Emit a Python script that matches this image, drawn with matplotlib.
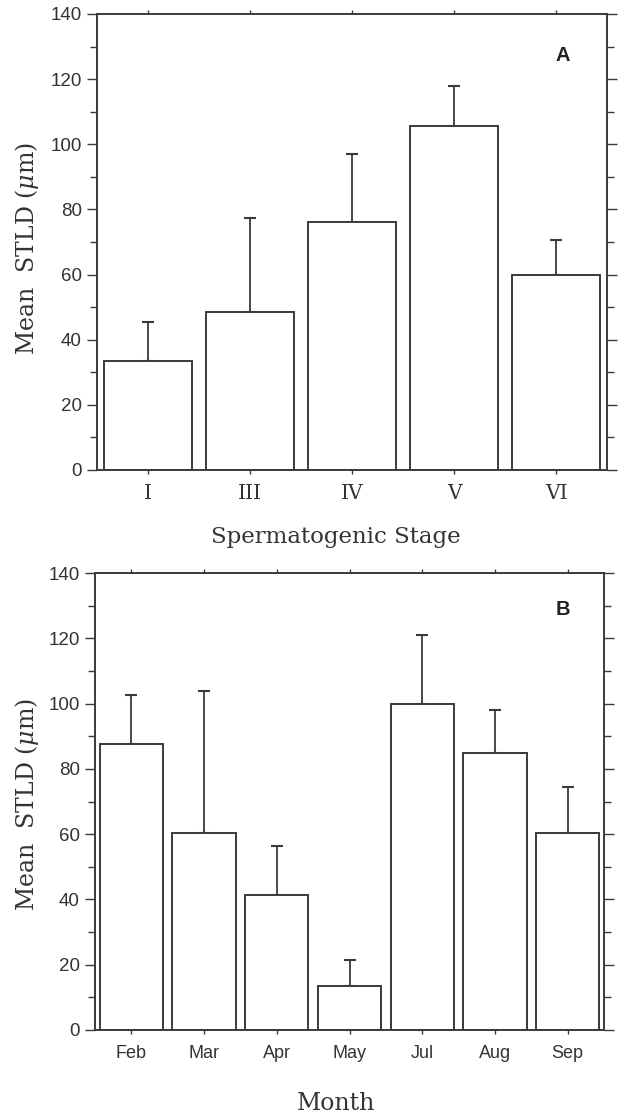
import matplotlib
matplotlib.use("Agg")
import matplotlib.pyplot as plt
from matplotlib.ticker import MultipleLocator
import numpy as np

# Panel A: seminiferous tubule lumen diameter by spermatogenic stage
stages = ["I", "III", "IV", "V", "VI"]
stage_mean = [33.5, 48.5, 76.0, 105.5, 60.0]
stage_sd = [12.0, 29.0, 21.0, 12.5, 10.5]

# Panel B: same measure by sampling month
months = ["Feb", "Mar", "Apr", "May", "Jul", "Aug", "Sep"]
month_mean = [87.5, 60.5, 41.5, 13.5, 100.0, 85.0, 60.5]
month_sd = [15.0, 43.5, 15.0, 8.0, 21.0, 13.0, 14.0]

plt.rcParams["mathtext.fontset"] = "dejavuserif"
SERIF = ["DejaVu Serif"]
SANS = ["Liberation Sans", "DejaVu Sans"]
EDGE = "#3a3a3a"
TXT = "#333333"

fig = plt.figure(figsize=(6.18, 11.17), dpi=100)
axA = fig.add_axes([97 / 618, 1 - 470 / 1117, 510 / 618, 456 / 1117])
axB = fig.add_axes([95 / 618, 1 - 1030 / 1117, 509 / 618, 457 / 1117])


def draw_panel(ax, cats, mean, sd, letter, tick_font, tick_size, tick_pad, letter_xy):
    x = np.arange(len(cats))
    ax.bar(x, mean, width=0.87, color="white", edgecolor=EDGE, linewidth=1.4, zorder=2)
    ax.errorbar(x, mean, yerr=[np.zeros(len(sd)), sd], fmt="none", ecolor=EDGE,
                elinewidth=1.3, capsize=4, capthick=1.5, zorder=1)
    ax.set_xlim(-0.5, len(cats) - 0.5)
    ax.set_ylim(0, 140)
    for s in ax.spines.values():
        s.set_color(EDGE)
        s.set_linewidth(1.4)
    ax.yaxis.set_major_locator(MultipleLocator(20))
    ax.yaxis.set_minor_locator(MultipleLocator(10))
    ax.set_xticks(x)
    ax.set_xticklabels(cats, family=tick_font, fontsize=tick_size, color=TXT)
    ax.tick_params(axis="x", which="both", direction="out", length=3, width=1.0,
                   color=EDGE, top=True, bottom=True, pad=tick_pad)
    ax.tick_params(axis="y", which="major", direction="out", length=7, width=1.0,
                   color=EDGE, left=True, right=True, pad=4)
    ax.tick_params(axis="y", which="minor", direction="out", length=5, width=1.0,
                   color=EDGE, left=True, right=True)
    for lab in ax.get_yticklabels():
        lab.set_family(SANS)
        lab.set_fontsize(13.5)
        lab.set_color(TXT)
    ax.text(letter_xy[0], letter_xy[1], letter, transform=ax.transAxes, family=SANS,
            fontsize=14.5, fontweight="bold", ha="center", va="center", color="#222222")


draw_panel(axA, stages, stage_mean, stage_sd, "A", SERIF, 14.5, 7, (0.914, 0.91))
draw_panel(axB, months, month_mean, month_sd, "B", SANS, 13, 7.5, (0.919, 0.921))

ylab = "Mean  STLD ($\\mathit{\\mu}$m)"
fig.text(27 / 618, 1 - 249 / 1117, ylab, rotation=90, ha="center", va="center",
         family=SERIF, fontsize=17, color=TXT)
fig.text(27 / 618, 1 - 805 / 1117, ylab, rotation=90, ha="center", va="center",
         family=SERIF, fontsize=17, color=TXT)
fig.text(336 / 618, 1 - 543 / 1117, "Spermatogenic Stage", ha="center", va="baseline",
         family=SERIF, fontsize=16.5, color=TXT)
fig.text(336 / 618, 1 - 1110 / 1117, "Month", ha="center", va="baseline",
         family=SERIF, fontsize=17, color=TXT)

fig.savefig("out.png", dpi=100, facecolor="white")
